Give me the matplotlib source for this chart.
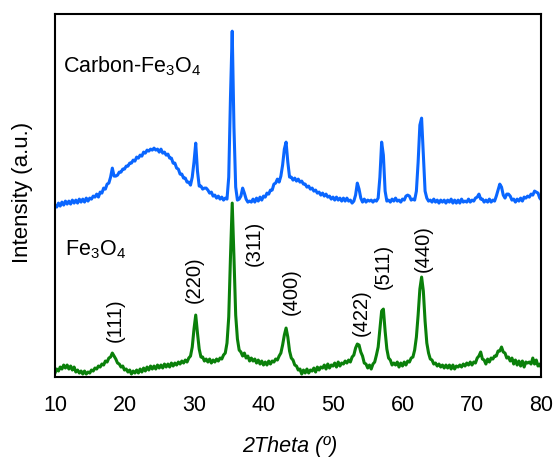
import numpy as np
import matplotlib
matplotlib.use("Agg")
import matplotlib.pyplot as plt

plt.rcParams["font.family"] = ["Liberation Sans", "DejaVu Sans"]
plt.rcParams["mathtext.default"] = "regular"

# 2-theta scan from 10 to 80 degrees, 0.25 degree steps
two_theta = np.linspace(10, 80, 281)

# Fe3O4 pattern (arbitrary intensity)
fe3o4 = [
    4, 8, 6, 10, 8, 12, 9, 12,
    8, 11, 7, 10, 5, 7, 4, 6,
    3, 6, 3, 5, 4, 7, 6, 9,
    8, 11, 10, 13, 12, 16, 15, 19,
    20, 24, 21, 18, 14, 13, 10, 11,
    7, 8, 5, 7, 3, 6, 4, 7,
    4, 8, 5, 9, 6, 10, 7, 11,
    8, 11, 8, 12, 9, 12, 9, 13,
    10, 13, 10, 14, 11, 14, 12, 15,
    13, 16, 14, 17, 15, 19, 21, 30,
    48, 62, 44, 28, 20, 20, 16, 18,
    15, 18, 14, 17, 15, 18, 16, 19,
    18, 22, 24, 34, 60, 120, 174, 120,
    62, 38, 27, 25, 21, 24, 19, 21,
    16, 19, 16, 18, 14, 17, 13, 16,
    12, 15, 12, 16, 13, 16, 15, 18,
    17, 21, 24, 32, 42, 49, 40, 26,
    19, 17, 12, 11, 7, 8, 3, 7,
    4, 8, 4, 7, 6, 9, 5, 10,
    7, 10, 9, 12, 8, 13, 9, 12,
    11, 14, 10, 15, 11, 14, 13, 16,
    14, 17, 15, 20, 22, 29, 33, 32,
    25, 21, 14, 13, 9, 12, 8, 13,
    15, 22, 30, 48, 66, 68, 46, 28,
    19, 17, 12, 14, 12, 15, 10, 14,
    11, 15, 12, 16, 15, 19, 20, 27,
    40, 62, 88, 100, 86, 56, 34, 24,
    18, 17, 13, 14, 11, 13, 10, 12,
    9, 12, 9, 12, 8, 12, 8, 11,
    10, 12, 10, 13, 11, 14, 12, 15,
    12, 15, 14, 19, 21, 25, 18, 17,
    13, 18, 15, 19, 18, 21, 21, 26,
    26, 30, 25, 24, 19, 20, 16, 19,
    13, 17, 12, 16, 11, 16, 10, 15,
    14, 15, 13, 19, 13, 17, 11, 13,
    9,
]

# Carbon-Fe3O4 pattern (arbitrary intensity, already offset upwards)
carbon_fe3o4 = [
    172, 170, 174, 171, 175, 172, 176, 173,
    176, 173, 177, 174, 177, 174, 178, 175,
    178, 175, 179, 176, 179, 178, 181, 180,
    183, 180, 185, 184, 189, 188, 193, 194,
    200, 209, 201, 201, 202, 205, 205, 208,
    208, 211, 211, 214, 214, 217, 216, 220,
    219, 222, 221, 225, 224, 227, 226, 228,
    227, 229, 227, 228, 225, 228, 224, 225,
    222, 223, 219, 219, 214, 214, 209, 208,
    203, 203, 199, 199, 195, 195, 192, 200,
    215, 234, 206, 191, 191, 188, 189, 189,
    187, 184, 185, 181, 182, 179, 181, 178,
    180, 177, 179, 178, 200, 280, 346, 250,
    190, 177, 178, 181, 189, 184, 178, 175,
    176, 175, 178, 175, 179, 176, 180, 177,
    181, 180, 184, 183, 187, 187, 193, 194,
    198, 195, 201, 212, 228, 235, 215, 200,
    200, 197, 199, 196, 198, 195, 196, 193,
    193, 190, 191, 188, 189, 186, 187, 184,
    185, 182, 184, 181, 183, 180, 181, 178,
    180, 177, 180, 177, 179, 176, 179, 176,
    179, 176, 177, 174, 176, 182, 194, 188,
    179, 175, 178, 175, 177, 176, 177, 175,
    177, 176, 179, 200, 235, 222, 186, 176,
    177, 175, 178, 176, 179, 176, 177, 175,
    178, 177, 181, 182, 181, 177, 178, 177,
    186, 215, 252, 259, 222, 186, 179, 176,
    177, 175, 178, 175, 177, 174, 177, 175,
    177, 174, 177, 175, 178, 174, 177, 174,
    177, 174, 178, 175, 176, 175, 178, 175,
    177, 176, 179, 180, 183, 178, 178, 175,
    177, 175, 178, 175, 177, 176, 181, 187,
    193, 190, 182, 179, 183, 183, 181, 177,
    178, 175, 178, 176, 179, 176, 180, 179,
    181, 180, 183, 182, 186, 185, 184, 179,
    177,
]

# Miller indices and their label anchor points (2theta, intensity)
hkl_labels = ["(111)", "(220)", "(311)", "(400)", "(422)", "(511)", "(440)"]
hkl_x = [18.6, 30.0, 38.6, 44.0, 54.0, 57.3, 63.0]
hkl_y = [57, 97, 134, 85, 64, 111, 129]

x_ticks = [10, 20, 30, 40, 50, 60, 70, 80]

fig = plt.figure(figsize=(5.56, 4.57), dpi=100)
ax = fig.add_axes([0.0989, 0.175, 0.875, 0.794])

ax.plot(two_theta, carbon_fe3o4, color="#0a66ff", lw=2.2)
ax.plot(two_theta, fe3o4, color="#0a800a", lw=2.2)

for lab, x, y in zip(hkl_labels, hkl_x, hkl_y):
    ax.text(x, y, lab, rotation=90, ha="center", va="center", fontsize=14.5)

ax.text(11.15, 311, "Carbon-Fe$_3$O$_4$", ha="left", va="center", fontsize=15.5)
ax.text(11.45, 127, "Fe$_3$O$_4$", ha="left", va="center", fontsize=15.5)

ax.set_xlim(10, 80)
ax.set_ylim(0, 363)
ax.set_xticks(x_ticks)
ax.set_yticks([])
ax.tick_params(axis="x", length=0, pad=13, labelsize=15.5)
for sp in ax.spines.values():
    sp.set_linewidth(1.5)

ax.set_xlabel("2Theta (º)", fontsize=15.5, fontstyle="italic")
ax.xaxis.set_label_coords(0.4835, -0.162)
ax.xaxis.label.set_va("top")
ax.set_ylabel("Intensity (a.u.)", fontsize=16)
ax.yaxis.set_label_coords(-0.045, 0.51)

fig.savefig("out.png", dpi=100)
